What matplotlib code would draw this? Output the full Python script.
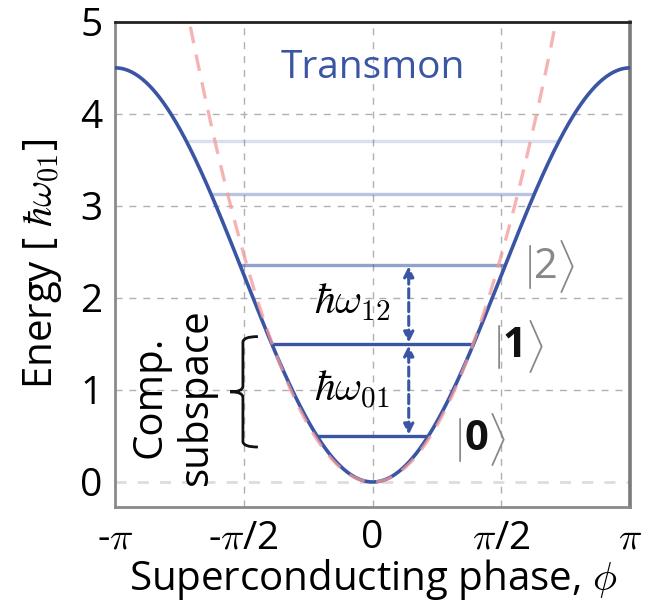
import numpy as np
import matplotlib
matplotlib.use('Agg')
import matplotlib.pyplot as plt
from matplotlib.path import Path
from matplotlib.patches import PathPatch

plt.rcParams['font.family'] = ['Open Sans', 'DejaVu Sans']
plt.rcParams['mathtext.fontset'] = 'cm'

# values
well_depth = 4.5            # cosine potential height at +-pi
harmonic_k = 1.0            # E = k * phi^2 for the dashed parabola
level_energies = [0.5, 1.5, 2.36, 3.13, 3.71]
level_alphas = [1.0, 1.0, 0.55, 0.35, 0.18]
state_digits = ['0', '1', '2']
state_pos = [(1.26, 0.46), (1.73, 1.47), (2.11, 2.34)]
xtick_vals = [-np.pi, -np.pi/2, 0, np.pi/2, np.pi]
xtick_labels = [r'-$\pi$', r'-$\pi$/2', '0', r'$\pi$/2', r'$\pi$']
ytick_vals = [0, 1, 2, 3, 4, 5]

blue = '#3b55a5'
pink = '#f49a9a'

def potential(phi):
    return well_depth / 2 * (1 - np.cos(phi))

def level_edge(E):
    return np.arccos(1 - 2 * E / well_depth)

def ket(ax, x, y, digit, bold):
    col = '#111111' if bold else '#888888'
    ax.annotate(r'$|$', (x, y), xytext=(-13, 0), textcoords='offset points',
                fontsize=32, color='#888888', ha='center', va='center')
    ax.annotate(digit, (x, y), xytext=(0, 0), textcoords='offset points',
                fontsize=30, color=col, ha='center', va='center',
                fontweight='bold' if bold else 'normal')
    ax.annotate(r'$\rangle$', (x, y), xytext=(14.5, 0), textcoords='offset points',
                fontsize=32, color='#888888', ha='center', va='center')

fig = plt.figure(figsize=(6.47, 6.07), dpi=100)
ax = fig.add_axes([0.178, 0.165, 0.796, 0.799])

phi = np.linspace(-np.pi, np.pi, 600)
ax.plot(phi, potential(phi), color=blue, lw=2.6, zorder=3)
ph = np.linspace(-2.4, 2.4, 400)
ax.plot(ph, harmonic_k * ph**2, color=pink, lw=2.4, ls=(0, (5, 3.5)), alpha=0.75, zorder=4)

for E, a in zip(level_energies, level_alphas):
    edge = level_edge(E)
    ax.plot([-edge, edge], [E, E], color=blue, alpha=a, lw=2.4, zorder=2, solid_capstyle='butt')

# transition arrows
arrow_x = 0.44
for lo, hi in [(level_energies[0], level_energies[1]), (level_energies[1], level_energies[2])]:
    ax.annotate('', xy=(arrow_x, hi), xytext=(arrow_x, lo),
                arrowprops=dict(arrowstyle='<|-|>', color=blue, lw=2.2, ls=(0, (3, 1.5)),
                                mutation_scale=15, shrinkA=1, shrinkB=1), zorder=5)
ax.text(-0.25, 1.0, r'$\hbar\omega_{01}$', fontsize=30, ha='center', va='center', zorder=5)
ax.text(-0.25, 1.95, r'$\hbar\omega_{12}$', fontsize=30, ha='center', va='center', zorder=5)

for d, (x, y), b in zip(state_digits, state_pos, [True, True, False]):
    ket(ax, x, y, d, b)

ax.text(0.0, 4.5, 'Transmon', fontsize=28, color=blue, ha='center', va='center')

ax.text(-2.43, 0.93, 'Comp.\nsubspace', rotation=90, fontsize=29, ha='center', va='center',
        multialignment='center', linespacing=1.2)

# curly brace
xs, xe, xt = -1.583, -1.40, -1.74
top, bot = 1.58, 0.38
mid = (top + bot) / 2
verts = [(xe, top), (xs, top), (xs, top - 0.06),
         (xs, mid + 0.06), (xs, mid), (xt, mid),
         (xs, mid), (xs, mid - 0.06),
         (xs, bot + 0.06), (xs, bot), (xe, bot)]
codes = [Path.MOVETO, Path.CURVE3, Path.CURVE3,
         Path.LINETO, Path.CURVE3, Path.CURVE3,
         Path.CURVE3, Path.CURVE3,
         Path.LINETO, Path.CURVE3, Path.CURVE3]
ax.add_patch(PathPatch(Path(verts, codes), fill=False, lw=2.0, color='#111111', zorder=5))

ax.set_xlim(-np.pi, np.pi)
ax.set_ylim(-0.27, 5)
ax.set_xticks(xtick_vals)
ax.set_xticklabels(xtick_labels)
ax.set_yticks(ytick_vals)
ax.tick_params(length=0, labelsize=28, pad=9)

for x in xtick_vals[1:-1]:
    ax.axvline(x, color='#b0b0b0', lw=1.0, ls=(0, (5, 5)), zorder=0)
for y in ytick_vals[1:-1]:
    ax.axhline(y, color='#b0b0b0', lw=1.0, ls=(0, (5, 5)), zorder=0)
ax.axhline(0, color='#dddddd', lw=2.0, ls=(0, (4, 4)), zorder=0)

for s in ['left', 'bottom']:
    ax.spines[s].set_color('#8a8a8a')
    ax.spines[s].set_linewidth(2.0)
ax.spines['top'].set_color('#222222')
ax.spines['top'].set_linewidth(2.0)
ax.spines['right'].set_color('#7a7a7a')
ax.spines['right'].set_linewidth(2.6)

ax.set_xlabel(r'Superconducting phase, $\phi$', fontsize=29, labelpad=0)
ax.set_ylabel(r'Energy [ $\hbar\omega_{01}$]', fontsize=29, labelpad=12)

fig.savefig('out.png', dpi=100)
